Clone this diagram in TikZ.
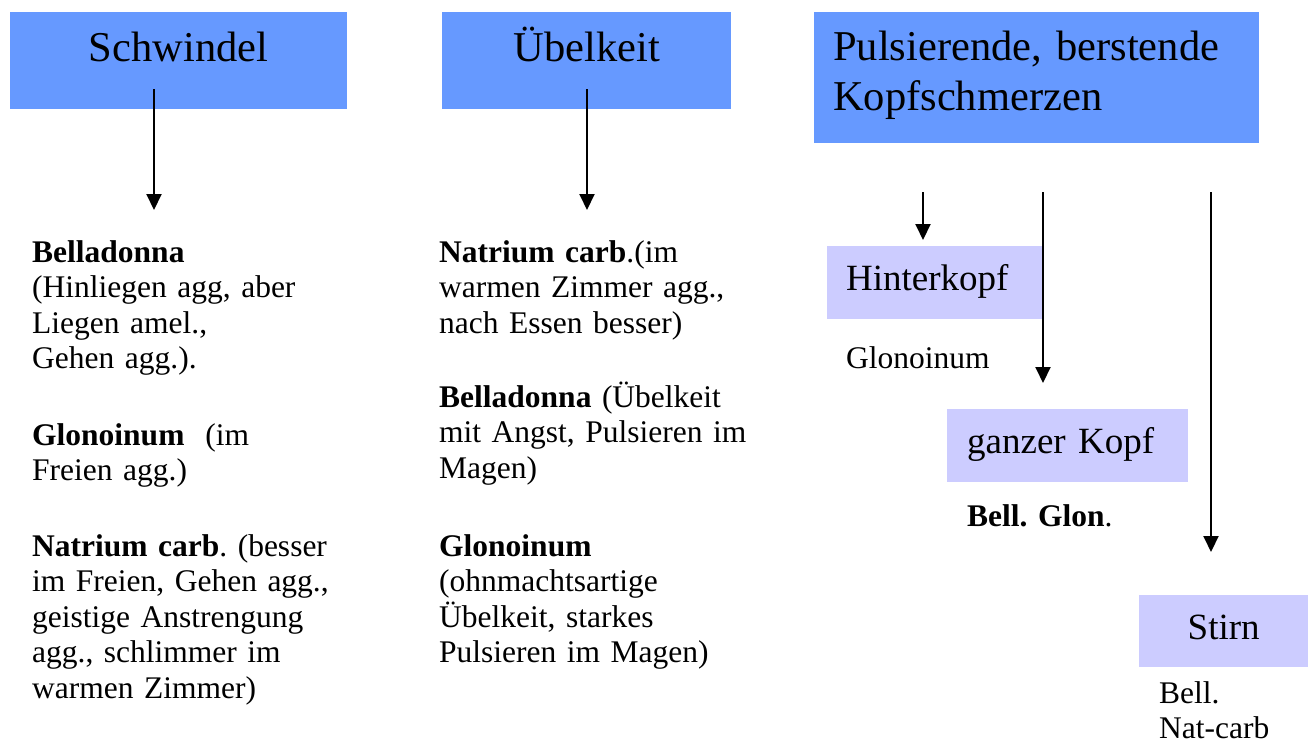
\documentclass[tikz,border=0pt]{standalone}
\usepackage{fontspec}
\setmainfont{Liberation Serif}
\usetikzlibrary{arrows.meta}
\definecolor{headblue}{HTML}{6699FF}
\definecolor{sublav}{HTML}{CCCCFF}
\frenchspacing
\begin{document}
\begin{tikzpicture}[x=1pt,y=-1pt,
  head/.style={fill=headblue, inner sep=0pt, font=\fontsize{42.5}{50}\selectfont, text height=49pt, text depth=48pt},
  sub/.style={fill=sublav, inner sep=0pt, font=\fontsize{37}{42}\selectfont, text height=44pt, text depth=29pt},
  body/.style={inner sep=0pt, anchor=base west, align=left, text width=340pt, font=\fontsize{31.5}{35.5}\selectfont},
  arr/.style={line width=2pt, -{Triangle[width=15pt,length=16pt]}}]
\useasboundingbox (0,0) rectangle (1312,745);

% header boxes
\node[head, minimum width=337pt, anchor=north west] (h1) at (10,12) {Schwindel};
\node[head, minimum width=289pt, anchor=north west] (h2) at (442,12) {Übelkeit};
\node[head, anchor=north west, text width=407pt, inner xsep=19pt, align=left, text height=48pt, text depth=83pt] (h3) at (814,12) {Pulsierende, berstende\\Kopfschmerzen};

% sub boxes
\node[sub, anchor=north west, text width=178pt, inner xsep=19pt, align=left] (k1) at (827,246) {Hinterkopf};
\node[sub, anchor=north west, text width=201pt, inner xsep=20pt, align=left] (k2) at (947,409) {ganzer Kopf};
\node[sub, anchor=north west, minimum width=169pt, text depth=28pt] (k3) at (1139,595) {Stirn};

% column 1
\node[body] (c1a) at (32,262) {\textbf{Belladonna}\\(Hinliegen agg, aber\\Liegen amel.,\\Gehen agg.).};
\node[body] (c1b) at (32,445) {\textbf{Glonoinum}\ \ (im\\Freien agg.)};
\node[body] (c1c) at (32,556) {\textbf{Natrium carb}. (besser\\im Freien, Gehen agg.,\\geistige Anstrengung\\agg., schlimmer im\\warmen Zimmer)};

% column 2
\node[body] (c2a) at (439,262) {\textbf{Natrium carb}.(im\\warmen Zimmer agg.,\\nach Essen besser)};
\node[body] (c2b) at (439,407) {\textbf{Belladonna} (Übelkeit\\mit Angst, Pulsieren im\\Magen)};
\node[body] (c2c) at (439,556) {\textbf{Glonoinum}\\(ohnmachtsartige\\Übelkeit, starkes\\Pulsieren im Magen)};

% right labels
\node[body, text width=160pt] (g1) at (846,368) {Glonoinum};
\node[body, text width=200pt] (g2) at (967,526) {\textbf{Bell. Glon}.};
\node[body, text width=140pt, font=\fontsize{31.5}{35}\selectfont] (g3) at (1159,703) {Bell.\\Nat-carb};

% arrow end points
\coordinate (a1s) at (154,89);  \coordinate (a1e) at (154,210);
\coordinate (a2s) at (587,89);  \coordinate (a2e) at (587,210);
\coordinate (a3s) at (923,192); \coordinate (a3e) at (923,240);
\coordinate (a4s) at (1043,192); \coordinate (a4e) at (1043,383);
\coordinate (a5s) at (1211,192); \coordinate (a5e) at (1211,552);

\draw[arr] (a1s) -- (a1e);
\draw[arr] (a2s) -- (a2e);
\draw[arr] (a3s) -- (a3e);
\draw[arr] (a4s) -- (a4e);
\draw[arr] (a5s) -- (a5e);
\end{tikzpicture}
\end{document}
